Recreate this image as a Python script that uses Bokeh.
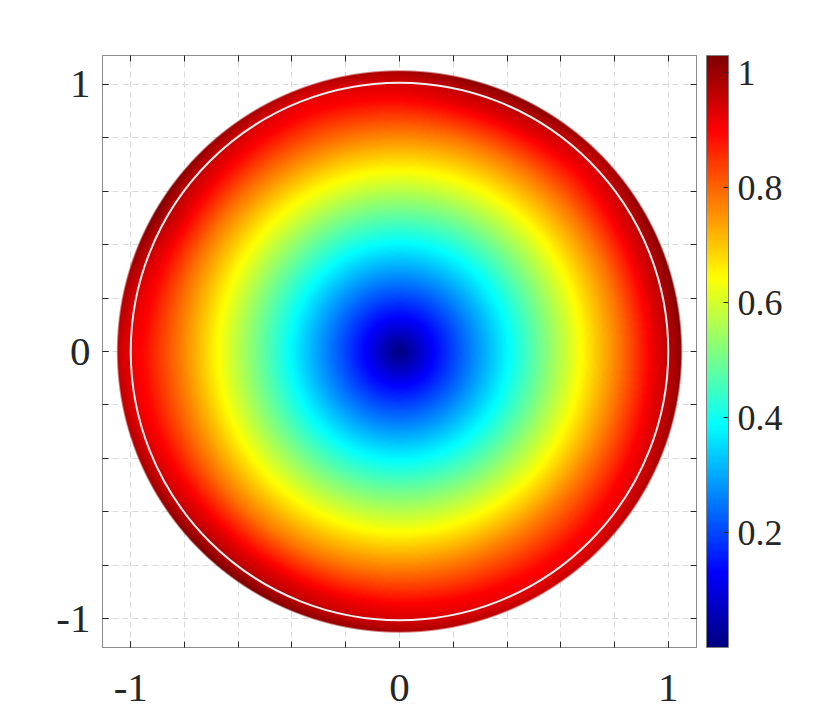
import numpy as np
from bokeh.plotting import figure
from bokeh.models import (LinearColorMapper, ColorBar, FixedTicker, LinearAxis,
                          Range1d, NumeralTickFormatter)
from bokeh.embed import file_html
from bokeh.resources import INLINE

# ---- values ----
# radial profile of the field (radius -> value), read from the colour bands
profile_r = [0.0, 0.126, 0.405, 0.676, 0.95, 1.0, 1.05]
profile_v = [0.0, 0.129, 0.386, 0.644, 0.905, 0.935, 0.985]
# value at the outer rim by direction (degrees)
edge_angle_deg = [0, 15, 30, 45, 60, 90, 105, 120, 135, 150, 165, 180,
                  195, 210, 225, 250, 270, 285, 300, 315, 330, 345]
edge_value = [1.02, 1.0, 0.98, 0.96, 0.96, 0.99, 1.01, 1.03, 1.03, 1.0, 0.97, 0.96,
              0.99, 1.03, 1.01, 0.97, 0.99, 1.02, 1.02, 0.99, 1.02, 1.03]
disk_radius = 1.05
unit_circle_radius = [1.0]
circle_x = [0.0]
circle_y = [0.0]
cbar_low, cbar_high = 0.0, 1.03
cbar_ticks = [0.2, 0.4, 0.6, 0.8, 1.0]
axis_ticks = [-1, 0, 1]
axis_tick_labels = {-1: "-1", 0: "0", 1: "1"}
minor_ticks = [-1.0, -0.8, -0.6, -0.4, -0.2, 0.0, 0.2, 0.4, 0.6, 0.8, 1.0]

X0, X1 = -1.105, 1.105
Y0, Y1 = -1.107, 1.107
FW, FH = 594, 592

# ---- jet colormap ----
def jet_rgb(n=256):
    t = np.linspace(0, 1, n)
    r = np.clip(1.5 - np.abs(4 * t - 3), 0, 1)
    g = np.clip(1.5 - np.abs(4 * t - 2), 0, 1)
    b = np.clip(1.5 - np.abs(4 * t - 1), 0, 1)
    return (np.stack([r, g, b], axis=1) * 255).round().astype(np.uint8)

JET = jet_rgb()
palette = ["#%02x%02x%02x" % tuple(c) for c in JET]

# ---- field on a grid aligned with screen pixels ----
dx = (X1 - X0) / FW
dy = (Y1 - Y0) / FH
xs = X0 + (np.arange(FW) + 0.5) * dx
ys = Y0 + (np.arange(FH) + 0.5) * dy
X, Y = np.meshgrid(xs, ys)
R = np.hypot(X, Y)
T = np.degrees(np.arctan2(Y, X)) % 360
base = np.interp(R, profile_r, profile_v)
ang = np.array(edge_angle_deg + [360])
ev = np.array(edge_value + [edge_value[0]])
mod = np.interp(T, ang, ev) - profile_v[-1]
w = np.clip((R - 0.82) / 0.23, 0, 1)
V = base + mod * w

idx = np.clip(((V - cbar_low) / (cbar_high - cbar_low) * 256).astype(int), 0, 255)
alpha = np.clip((disk_radius - R) / dx + 0.5, 0, 1)
img = np.zeros((FH, FW), dtype=np.uint32)
view = img.view(dtype=np.uint8).reshape((FH, FW, 4))
view[..., 0] = JET[idx, 0]
view[..., 1] = JET[idx, 1]
view[..., 2] = JET[idx, 2]
view[..., 3] = (alpha * 255).round().astype(np.uint8)
# the svg backend draws image rows top-down
img = np.ascontiguousarray(np.flipud(img))

mapper = LinearColorMapper(palette=palette, low=cbar_low, high=cbar_high)

p = figure(x_range=Range1d(X0, X1), y_range=Range1d(Y0, Y1),
           frame_width=FW, frame_height=FH, output_backend="svg",
           toolbar_location=None, min_border_left=102, min_border_top=55,
           min_border_bottom=76, min_border_right=112)
p.background_fill_color = "white"
p.outline_line_color = "#8c8c8c"

p.image_rgba(image=[img], x=X0, y=Y0, dw=X1 - X0, dh=Y1 - Y0)
p.circle(x=circle_x, y=circle_y, radius=unit_circle_radius, fill_color=None,
         line_color="#f0f0f0", line_width=2)

font = "'Liberation Serif', Times, serif"
axis_color = "#8c8c8c"
tick_color = "#262626"

def style_axis(ax, show_labels=True, standoff=12):
    ax.axis_line_color = axis_color
    ax.major_tick_line_color = tick_color
    ax.minor_tick_line_color = tick_color
    ax.major_tick_in = 6
    ax.major_tick_out = 0
    ax.minor_tick_in = 6
    ax.minor_tick_out = 0
    if show_labels:
        ax.ticker = FixedTicker(ticks=axis_ticks, minor_ticks=minor_ticks)
        ax.major_label_overrides = axis_tick_labels
        ax.major_label_text_font = font
        ax.major_label_text_color = "#262626"
        ax.major_label_text_font_size = "41px"
        ax.major_label_standoff = standoff
    else:
        ax.ticker = FixedTicker(ticks=[], minor_ticks=minor_ticks)
        ax.major_label_standoff = 0

style_axis(p.xaxis[0], True, 27)
style_axis(p.yaxis[0], True, 12)

top_ax = LinearAxis()
style_axis(top_ax, False)
p.add_layout(top_ax, "above")
right_ax = LinearAxis()
style_axis(right_ax, False)
p.add_layout(right_ax, "right")

for g in (p.xgrid[0], p.ygrid[0]):
    g.ticker = FixedTicker(ticks=minor_ticks)
    g.grid_line_color = "#dadada"
    g.grid_line_dash = "6 4"
    g.grid_line_width = 1

cb = ColorBar(color_mapper=mapper, ticker=FixedTicker(ticks=cbar_ticks),
              formatter=NumeralTickFormatter(format="0.[0]"),
              width=22, height=FH, padding=0, margin=0, location=(10, 0),
              label_standoff=9,
              major_label_text_font=font, major_label_text_font_size="36px",
              major_label_text_color="#262626",
              major_tick_line_color=tick_color, major_tick_in=5, major_tick_out=0,
              bar_line_color="#808080", bar_line_width=1,
              background_fill_color=None)
p.add_layout(cb, "right")

open("out.html", "w").write(file_html(p, INLINE))
